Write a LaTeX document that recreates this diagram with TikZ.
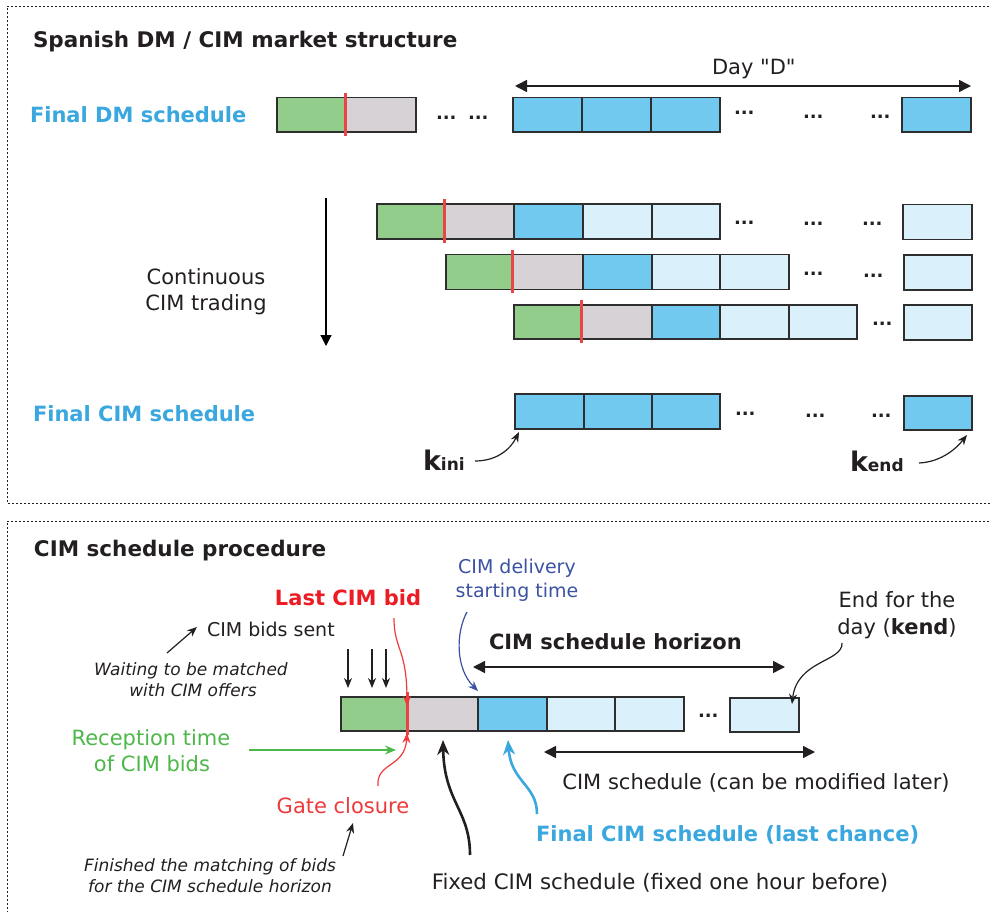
\documentclass[tikz,border=0pt]{standalone}
\usepackage{fontspec}
\setmainfont{DejaVu Sans}
\newfontfamily\plainq{DejaVu Sans}
\usetikzlibrary{arrows.meta}

\definecolor{cgreen}{HTML}{92CD8C}
\definecolor{cgrey}{HTML}{D6D2D6}
\definecolor{cblue}{HTML}{72C9F0}
\definecolor{clight}{HTML}{DAF0FA}
\definecolor{cmark}{HTML}{E94545}
\definecolor{cedge}{HTML}{2E2E2E}
\definecolor{tcyan}{HTML}{3AA7DE}
\definecolor{tred}{HTML}{ED1C24}
\definecolor{tredb}{HTML}{EE3A3A}
\definecolor{tdblue}{HTML}{3B52A3}
\definecolor{tgreen}{HTML}{4DB848}
\definecolor{tblack}{HTML}{231F20}

\newcommand\fsz[1]{\fontsize{#1}{#1}\selectfont}
% cell: name, x0, x1, y0, y1, fill
\newcommand\mkcell[6]{\node[cell,fill=#6,minimum width={(#3)-(#2)},minimum height={(#5)-(#4)}] (#1) at ({((#2)+(#3))/2},{((#4)+(#5))/2}) {};}

\begin{document}
\begin{tikzpicture}[x=1pt,y=-1pt,font=\fsz{21},text=tblack,
  cell/.style={draw=cedge,line width=1.3pt,inner sep=0pt,outer sep=0pt},
  frame/.style={draw=tblack,line width=0.9pt,dash pattern=on 2.2pt off 1.8pt},
  txt/.style={inner sep=0pt,outer sep=0pt,anchor=base west},
  ctxt/.style={inner sep=0pt,outer sep=0pt,anchor=base},
  dotrow/.style={inner sep=0pt,outer sep=0pt,anchor=base west,font=\fsz{18}\bfseries},
  redmark/.style={draw=cmark,line width=3pt},
  dbl/.style={line width=1.5pt,draw=tblack,{Triangle[length=12pt,width=12pt]}-{Triangle[length=12pt,width=12pt]}},
  thin/.style={line width=1.2pt,draw=tblack,-{Stealth[length=10pt,width=8pt]}},
  thick/.style={line width=2.6pt,-{Stealth[length=15pt,width=12pt]}},
]
\useasboundingbox (0,0) rectangle (991,912);

% panel frames
\draw[frame] (989,6) -- (7,6) -- (7,503) -- (995,503);
\draw[frame] (989,521) -- (7,521) -- (7,930);

% ---------------- upper panel ----------------
\node[txt,font=\fsz{21.5}\bfseries] (title1) at (33,47.5) {Spanish DM / CIM market structure};
\node[txt,font=\fsz{21}\bfseries,text=tcyan] (dmlbl) at (30,123) {Final DM schedule};
\node[txt,font=\fsz{21}\bfseries,text=tcyan] (cimlbl) at (33,421.5) {Final CIM schedule};

% final DM schedule
\mkcell{a1}{277}{345}{97.5}{132}{cgreen}
\mkcell{a2}{345}{416}{97.5}{132}{cgrey}
\mkcell{a3}{513}{582}{97.5}{132}{cblue}
\mkcell{a4}{582}{651}{97.5}{132}{cblue}
\mkcell{a5}{651}{720}{97.5}{132}{cblue}
\mkcell{a6}{902}{971}{97.5}{132}{cblue}
\draw[redmark] ([yshift=4pt]a1.north east) -- ([yshift=-4pt]a1.south east);
\node[dotrow] (ad1) at (436,120) {...};
\node[dotrow] (ad2) at (468,120) {...};
\node[dotrow] (ad3) at (734,115) {...};
\node[dotrow] (ad4) at (803,119) {...};
\node[dotrow] (ad5) at (870,119) {...};

% day D
\coordinate (dayL) at (515,86);
\coordinate (dayR) at (971,86);
\draw[dbl] (dayL) -- (dayR);
\node[txt,font=\fsz{21}\plainq] (day) at (712,75) {Day "D"};

% continuous trading
\coordinate (ctop) at (326,198);
\coordinate (cbot) at (326,346);
\draw[line width=1.2pt,-{Triangle[length=11pt,width=11pt]}] (ctop) -- (cbot);
\node[ctxt] (cont1) at (206,284.5) {Continuous};
\node[ctxt] (cont2) at (206,310.5) {CIM trading};

% trading row 1
\mkcell{b1}{377}{444}{204}{239}{cgreen}
\mkcell{b2}{444}{514}{204}{239}{cgrey}
\mkcell{b3}{514}{583}{204}{239}{cblue}
\mkcell{b4}{583}{652}{204}{239}{clight}
\mkcell{b5}{652}{720}{204}{239}{clight}
\mkcell{b6}{903}{972}{204.5}{239.5}{clight}
\draw[redmark] ([yshift=4.5pt]b1.north east) -- ([yshift=-4pt]b1.south east);
\node[dotrow] (bd1) at (734,225) {...};
\node[dotrow] (bd2) at (803,226) {...};
\node[dotrow] (bd3) at (862,226) {...};

% trading row 2
\mkcell{c1}{446}{512}{254.5}{289.5}{cgreen}
\mkcell{c2}{512}{583}{254.5}{289.5}{cgrey}
\mkcell{c3}{583}{652}{254.5}{289.5}{cblue}
\mkcell{c4}{652}{720}{254.5}{289.5}{clight}
\mkcell{c5}{720}{789}{254.5}{289.5}{clight}
\mkcell{c6}{904}{972}{255}{290}{clight}
\draw[redmark] ([yshift=4.5pt]c1.north east) -- ([yshift=-3.5pt]c1.south east);
\node[dotrow] (cd1) at (803,276) {...};
\node[dotrow] (cd2) at (863,277) {...};

% trading row 3
\mkcell{d1}{514}{581}{305}{339}{cgreen}
\mkcell{d2}{581}{652}{305}{339}{cgrey}
\mkcell{d3}{652}{720}{305}{339}{cblue}
\mkcell{d4}{720}{789}{305}{339}{clight}
\mkcell{d5}{789}{857}{305}{339}{clight}
\mkcell{d6}{904}{972}{305}{340}{clight}
\draw[redmark] ([yshift=5pt]d1.north east) -- ([yshift=-4pt]d1.south east);
\node[dotrow] (dd1) at (872,325) {...};

% final CIM schedule
\mkcell{e1}{515}{584}{394}{429}{cblue}
\mkcell{e2}{584}{652}{394}{429}{cblue}
\mkcell{e3}{652}{720}{394}{429}{cblue}
\mkcell{e4}{904}{972}{396}{430}{cblue}
\node[dotrow] (ed1) at (735,415) {...};
\node[dotrow] (ed2) at (805,417) {...};
\node[dotrow] (ed3) at (871,417) {...};

% k labels
\node[txt,font=\bfseries] (kini) at (423,470) {{\fsz{27}k}{\fsz{17}ini}};
\node[txt,font=\bfseries] (kend) at (850,471) {{\fsz{27}k}{\fsz{17}end}};
\coordinate (kiniS) at (475,461);
\coordinate (kendS) at (919,463);
\draw[thin] (kiniS) .. controls (496,461) and (510,450) .. ([shift={(4pt,-3pt)}]e1.south west);
\draw[thin] (kendS) .. controls (940,462) and (955,450) .. ([shift={(-5pt,-5pt)}]e4.south east);

% ---------------- lower panel ----------------
\node[txt,font=\fsz{21.5}\bfseries] (title2) at (34,556) {CIM schedule procedure};

\mkcell{f1}{341}{407}{697}{731}{cgreen}
\mkcell{f2}{407}{478}{697}{731}{cgrey}
\mkcell{f3}{478}{547}{697}{731}{cblue}
\mkcell{f4}{547}{615}{697}{731}{clight}
\mkcell{f5}{615}{684}{697}{731}{clight}
\mkcell{f6}{730}{799}{698}{732}{clight}
\draw[redmark] ([yshift=5pt]f1.north east) -- ([yshift=-4pt]f1.south east);
\node[dotrow] (fd1) at (698,717) {...};

% bids sent
\node[txt,font=\fsz{19}] (sent) at (207,636.5) {CIM bids sent};
\node[ctxt,font=\fsz{17}\itshape] (wait1) at (191,675.5) {Waiting to be matched};
\node[ctxt,font=\fsz{17}\itshape] (wait2) at (193,696.5) {with CIM offers};
\coordinate (waitA) at (167,653);
\coordinate (sentA) at (197,627);
\draw[thin] (waitA) -- (sentA);
\foreach \xx/\nm in {348/s1,372/s2,386/s3}{
  \coordinate (\nm t) at (\xx,649);
  \coordinate (\nm b) at (\xx,688);
  \draw[thin] (\nm t) -- (\nm b);
}

% last bid
\node[ctxt,font=\fsz{21}\bfseries,text=tred] (last) at (348,605.5) {Last CIM bid};
\coordinate (lastS) at (394,618);
\draw[line width=1.2pt,draw=tredb,-{Stealth[length=10pt,width=8pt]}] (lastS) .. controls (394,650) and (407,648) .. ([yshift=-9pt]f1.north east);

% delivery start
\node[ctxt,font=\fsz{19},text=tdblue] (deliv1) at (517,573.5) {CIM delivery};
\node[ctxt,font=\fsz{19},text=tdblue] (deliv2) at (517,597.5) {starting time};
\coordinate (delS) at (467,612);
\draw[line width=1.2pt,draw=tdblue,-{Stealth[length=10pt,width=8pt]}] (delS) .. controls (456,632) and (455,668) .. ([yshift=6pt]f2.north east);

% horizon
\node[txt,font=\fsz{21}\bfseries] (hor) at (489,649) {CIM schedule horizon};
\coordinate (horL) at (473,667);
\coordinate (horR) at (785,667);
\draw[dbl] (horL) -- (horR);

% end of day
\node[ctxt] (end1) at (897,607.5) {End for the};
\node[ctxt] (end2) at (897,634) {day ({\bfseries kend})};
\coordinate (endS) at (842,643);
\draw[thin] (endS) .. controls (843,662) and (797,660) .. ([shift={(62pt,-6pt)}]f6.north west);

% modifiable schedule
\coordinate (modL) at (544,752);
\coordinate (modR) at (815,752);
\draw[dbl] (modL) -- (modR);
\node[ctxt] (mod) at (756,789.5) {CIM schedule (can be modified later)};

% final CIM (last chance)
\node[txt,font=\fsz{21}\bfseries,text=tcyan] (final) at (536,841) {Final CIM schedule (last chance)};
\coordinate (finS) at (537,814);
\draw[thick,draw=tcyan] (finS) .. controls (537,785) and (511,782) .. ([shift={(30pt,-9pt)}]f3.south west);

% fixed schedule
\node[ctxt,font=\fsz{21.3}] (fixed) at (660,889.5) {Fixed CIM schedule (fixed one hour before)};
\coordinate (fixS) at (470,855);
\draw[thick,draw=tblack] (fixS) .. controls (470,810) and (444,802) .. ([shift={(36pt,-9pt)}]f2.south west);

% reception time
\node[ctxt,text=tgreen] (rec1) at (151,745) {Reception time};
\node[ctxt,text=tgreen] (rec2) at (152,771.5) {of CIM bids};
\coordinate (recS) at (249,750);
\coordinate (recE) at (396,750);
\draw[line width=1.3pt,draw=tgreen,-{Stealth[length=11pt,width=9pt]}] (recS) -- (recE);

% gate closure
\node[ctxt,text=tredb] (gate) at (343,813.5) {Gate closure};
\coordinate (gateS) at (378,786);
\draw[line width=1.2pt,draw=tredb,-{Stealth[length=10pt,width=8pt]}] (gateS) .. controls (376,762) and (405,768) .. ([yshift=-2pt]f1.south east);

% matching finished
\node[ctxt,font=\fsz{17}\itshape] (fin1) at (210,871.5) {Finished the matching of bids};
\node[ctxt,font=\fsz{17}\itshape] (fin2) at (210,892.5) {for the CIM schedule horizon};
\coordinate (finA) at (343,856);
\coordinate (finB) at (353,823);
\draw[thin] (finA) -- (finB);

\end{tikzpicture}
\end{document}
